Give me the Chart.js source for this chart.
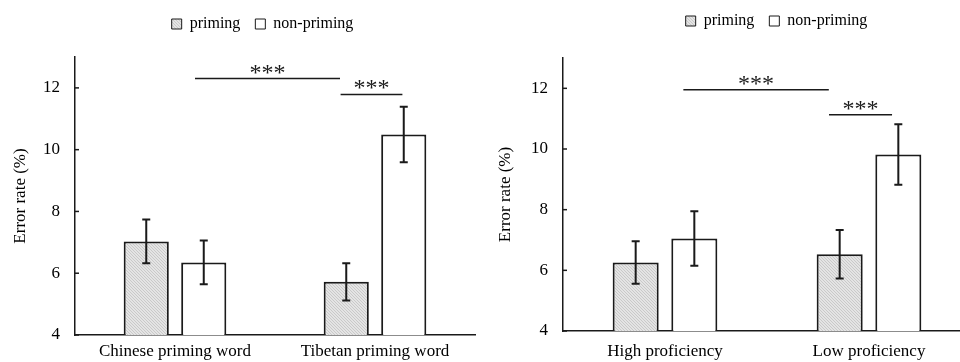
<!DOCTYPE html>
<html>
<head>
    <title>Error rate by priming condition</title>
    <script src="https://cdn.jsdelivr.net/npm/chart.js"></script>
    <style>
        body {
            margin: 0;
            background-color: #ffffff;
            overflow: hidden;
        }
        .wrap {
            position: relative;
            width: 960px;
            height: 362px;
            overflow: hidden;
        }
        #leftBox { position: absolute; left: 0; top: 0; width: 480px; height: 362px; }
        #rightBox { position: absolute; left: 480px; top: 0; width: 500px; height: 362px; }
    </style>
</head>
<body>
    <div class="wrap">
        <div id="leftBox"><canvas id="chartLeft"></canvas></div>
        <div id="rightBox"><canvas id="chartRight"></canvas></div>
    </div>

    <script>
        // ---- data ----
        const seriesNames = ['priming', 'non-priming'];
        const yTicks = [4, 6, 8, 10, 12];

        // left panel: word type
        const leftCategories = ['Chinese priming word', 'Tibetan priming word'];
        const leftPriming = [7.03, 5.72];
        const leftNonPriming = [6.35, 10.49];
        const leftPrimingErr = [0.71, 0.60];
        const leftNonPrimingErr = [0.71, 0.90];
        // significance brackets (x in category units, y in %)
        const leftSig = [
            { from: 0.10, to: 0.825, y: 12.3, label: '***' },
            { from: 0.828, to: 1.137, y: 11.79, label: '***' }
        ];

        // right panel: proficiency
        const rightCategories = ['High proficiency', 'Low proficiency'];
        const rightPriming = [6.26, 6.53];
        const rightNonPriming = [7.05, 9.82];
        const rightPrimingErr = [0.70, 0.80];
        const rightNonPrimingErr = [0.90, 1.00];
        const rightSig = [
            { from: 0.09, to: 0.803, y: 11.95, label: '***' },
            { from: 0.804, to: 1.113, y: 11.13, label: '***' }
        ];

        const FONT = 'Liberation Serif';
        const INK = '#1a1a1a';

        // light grey hatch used for the priming bars
        function makeHatch() {
            const c = document.createElement('canvas');
            c.width = 3; c.height = 3;
            const g = c.getContext('2d');
            g.fillStyle = '#e4e4e4';
            g.fillRect(0, 0, 3, 3);
            g.strokeStyle = '#c2c2c2';
            g.lineWidth = 0.8;
            g.beginPath();
            g.moveTo(0, 0); g.lineTo(3, 3);
            g.moveTo(-1, 2); g.lineTo(1, 4);
            g.moveTo(2, -1); g.lineTo(4, 1);
            g.stroke();
            return g.createPattern(c, 'repeat');
        }
        const hatch = makeHatch();

        // error bars, inward ticks and significance brackets
        const extrasPlugin = {
            id: 'extras',
            afterLayout(chart) {
                // nudge the legend to where it sits in the figure
                const o = chart.options.plugins.extras;
                chart.legend.left += o.legendDx;
                chart.legend.right += o.legendDx;
                chart.legend.top += o.legendDy;
                chart.legend.bottom += o.legendDy;
            },
            afterDatasetsDraw(chart) {
                const opts = chart.options.plugins.extras;
                const ctx = chart.ctx;
                const xs = chart.scales.x;
                const ys = chart.scales.y;
                ctx.save();
                ctx.strokeStyle = INK;
                ctx.lineWidth = 2;

                // error bars
                chart.data.datasets.forEach((ds, i) => {
                    const meta = chart.getDatasetMeta(i);
                    meta.data.forEach((bar, j) => {
                        const v = ds.data[j];
                        const e = opts.errors[i][j];
                        const top = ys.getPixelForValue(v + e);
                        const bot = ys.getPixelForValue(v - e);
                        ctx.beginPath();
                        ctx.moveTo(bar.x, top); ctx.lineTo(bar.x, bot);
                        ctx.moveTo(bar.x - 4, top); ctx.lineTo(bar.x + 4, top);
                        ctx.moveTo(bar.x - 4, bot); ctx.lineTo(bar.x + 4, bot);
                        ctx.stroke();
                    });
                });

                // small inward tick marks on the y axis
                ctx.lineWidth = 1.5;
                yTicks.forEach(t => {
                    const y = ys.getPixelForValue(t);
                    ctx.beginPath();
                    ctx.moveTo(ys.right, y); ctx.lineTo(ys.right + 4, y);
                    ctx.stroke();
                });

                // significance brackets
                ctx.fillStyle = INK;
                ctx.font = '24px "' + FONT + '"';
                ctx.textAlign = 'center';
                ctx.textBaseline = 'alphabetic';
                opts.sig.forEach(s => {
                    const x1 = xs.getPixelForValue(s.from);
                    const x2 = xs.getPixelForValue(s.to);
                    const y = ys.getPixelForValue(s.y);
                    ctx.lineWidth = 1.5;
                    ctx.beginPath();
                    ctx.moveTo(x1, y); ctx.lineTo(x2, y);
                    ctx.stroke();
                    ctx.fillText(s.label, (x1 + x2) / 2, y + 1);
                });
                ctx.restore();
            }
        };

        function makeChart(id, cats, prim, nonPrim, primErr, nonPrimErr, sig, lay) {
            const ctx = document.getElementById(id).getContext('2d');
            return new Chart(ctx, {
                type: 'bar',
                data: {
                    labels: cats,
                    datasets: [{
                        label: seriesNames[0],
                        data: prim,
                        backgroundColor: hatch,
                        borderColor: INK,
                        borderWidth: 2,
                        borderSkipped: 'bottom'
                    }, {
                        label: seriesNames[1],
                        data: nonPrim,
                        backgroundColor: '#ffffff',
                        borderColor: INK,
                        borderWidth: 2,
                        borderSkipped: 'bottom'
                    }]
                },
                options: {
                    responsive: true,
                    maintainAspectRatio: false,
                    animation: false,
                    categoryPercentage: 0.575,
                    barPercentage: 0.785,
                    layout: { padding: { top: lay.top, right: lay.right, left: 0, bottom: 0 } },
                    scales: {
                        x: {
                            grid: { display: false, drawTicks: false },
                            border: { display: true, color: INK, width: 1.5 },
                            ticks: { color: '#000', font: { family: FONT, size: 17 }, padding: lay.xPad, maxRotation: 0 },
                            afterFit: s => { s.height = lay.xh; }
                        },
                        y: {
                            min: 4,
                            max: 13,
                            grid: { display: false, drawTicks: false },
                            border: { display: true, color: INK, width: 1.5 },
                            ticks: {
                                stepSize: 2,
                                includeBounds: false,
                                color: '#000',
                                padding: 15,
                                font: { family: FONT, size: 17 }
                            },
                            title: {
                                display: true,
                                text: 'Error rate (%)',
                                color: '#000',
                                font: { family: FONT, size: 17 },
                                padding: { top: lay.titlePad, bottom: 0 }
                            },
                            afterFit: s => { s.width = lay.yw; }
                        }
                    },
                    plugins: {
                        legend: {
                            position: 'top',
                            labels: {
                                color: '#000',
                                font: { family: FONT, size: 16 },
                                boxWidth: 10,
                                boxHeight: 10,
                                padding: 15,
                                generateLabels: chart => Chart.defaults.plugins.legend.labels.generateLabels(chart)
                                    .map(l => Object.assign(l, { lineWidth: 1 }))
                            }
                        },
                        tooltip: { enabled: false },
                        extras: {
                            errors: [primErr, nonPrimErr],
                            sig: sig,
                            legendDx: lay.dx,
                            legendDy: lay.dy
                        }
                    }
                },
                plugins: [extrasPlugin]
            });
        }

        // Left panel: Chinese vs Tibetan priming word
        const chartLeft = makeChart('chartLeft', leftCategories, leftPriming, leftNonPriming,
            leftPrimingErr, leftNonPrimingErr, leftSig,
            { top: 16, right: 5, xh: 27, yw: 75, xPad: 6, titlePad: 10, dx: 25, dy: -15 });

        // Right panel: high vs low proficiency
        const chartRight = makeChart('chartRight', rightCategories, rightPriming, rightNonPriming,
            rightPrimingErr, rightNonPrimingErr, rightSig,
            { top: 17, right: 9, xh: 31, yw: 83, xPad: 10, titlePad: 15, dx: 51, dy: -19 });
    </script>
</body>
</html>
